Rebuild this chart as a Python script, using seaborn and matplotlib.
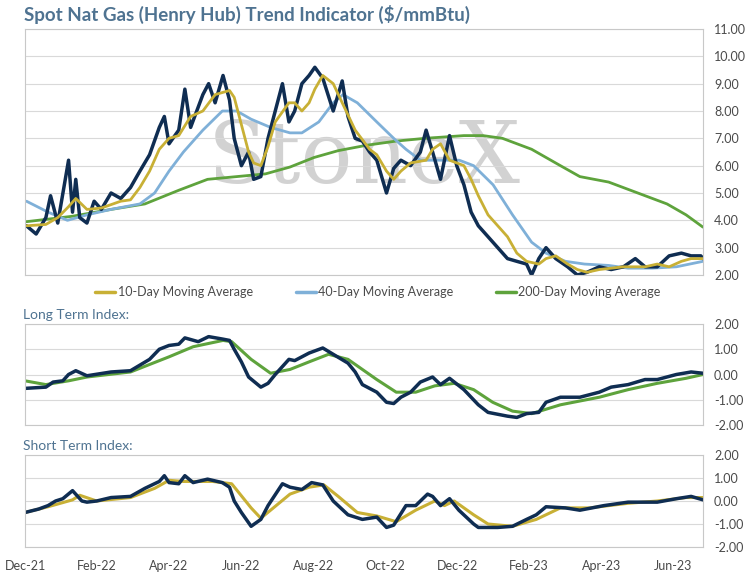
import matplotlib
matplotlib.use('Agg')
import matplotlib.pyplot as plt
import seaborn as sns

# -----------------------------
# DATA
# time axis = months since 1 Dec 2021
# -----------------------------
month_ticks = [0, 2, 4, 6, 8, 10, 12, 14, 16, 18]
month_labels = ["Dec-21", "Feb-22", "Apr-22", "Jun-22", "Aug-22", "Oct-22", "Dec-22",
                "Feb-23", "Apr-23", "Jun-23"]

spot_t = [0.04, 0.31, 0.58, 0.71, 0.91, 1.21, 1.32, 1.41, 1.52, 1.72, 1.92, 2.12, 2.39, 2.66, 2.93,
          3.19, 3.46, 3.73, 3.87, 4.0, 4.27, 4.44, 4.6, 4.94, 5.1, 5.28, 5.5, 5.68, 5.81, 6.01, 6.21,
          6.35, 6.55, 6.75, 6.95, 7.15, 7.33, 7.49, 7.69, 7.89, 8.05, 8.27, 8.56, 8.81, 8.97, 9.17,
          9.37, 9.57, 9.77, 10.04, 10.24, 10.44, 10.71, 10.98, 11.14, 11.32, 11.54, 11.79, 11.99,
          12.19, 12.39, 12.59, 12.86, 13.13, 13.4, 13.66, 13.93, 14.07, 14.27, 14.47, 14.74, 15.07,
          15.34, 15.61, 15.95, 16.28, 16.62, 16.95, 17.22, 17.56, 17.89, 18.23, 18.5, 18.77, 18.83]
spot = [3.8, 3.5, 4.1, 4.9, 3.9, 6.2, 4.3, 5.5, 4.1, 3.9, 4.7, 4.4, 5.0, 4.8, 5.2,
        5.8, 6.4, 7.4, 7.8, 6.8, 7.3, 8.8, 7.4, 8.6, 9.0, 8.3, 9.3, 8.4, 7.0, 6.0, 6.5,
        5.5, 5.6, 7.0, 8.0, 9.0, 7.6, 8.0, 9.0, 9.3, 9.6, 9.2, 8.0, 9.1, 7.8, 7.0,
        6.9, 6.5, 6.2, 5.0, 5.9, 6.2, 6.0, 6.5, 7.3, 6.5, 5.5, 7.1, 6.0,
        5.3, 4.3, 3.8, 3.4, 3.0, 2.6, 2.5, 2.4, 2.0, 2.6, 3.0, 2.6, 2.3,
        2.0, 2.1, 2.3, 2.2, 2.3, 2.6, 2.3, 2.3, 2.7, 2.8, 2.7, 2.7, 2.6]

ma10_t = [0.04, 0.58, 0.91, 1.21, 1.41, 1.72, 2.12, 2.66, 2.93, 3.19, 3.46, 3.73, 4.0, 4.27, 4.6,
          4.94, 5.28, 5.68, 5.81, 6.01, 6.21, 6.35, 6.55, 6.75, 6.95, 7.33, 7.49, 7.69, 7.89, 8.05,
          8.27, 8.56, 8.81, 9.17, 9.57, 9.77, 10.04, 10.24, 10.44, 10.71, 11.14, 11.32, 11.54,
          11.79, 12.19, 12.39, 12.59, 12.86, 13.13, 13.4, 13.66, 13.93, 14.27, 14.47, 14.74,
          15.07, 15.34, 15.61, 15.95, 16.62, 17.22, 17.56, 17.89, 18.23, 18.5, 18.83]
ma10 = [3.8, 3.85, 4.1, 4.5, 4.8, 4.4, 4.45, 4.7, 4.75, 5.2, 5.8, 6.6, 7.0, 7.1, 7.8,
        8.0, 8.6, 8.75, 8.5, 7.5, 6.5, 6.1, 6.0, 6.7, 7.6, 8.3, 8.3, 8.0, 8.3, 8.8,
        9.3, 9.0, 8.3, 7.3, 6.6, 6.4, 5.8, 5.5, 5.8, 6.1, 6.2, 6.6, 6.8,
        6.2, 6.0, 5.5, 4.9, 4.2, 3.8, 3.4, 2.8, 2.5, 2.4, 2.6, 2.7,
        2.4, 2.2, 2.1, 2.2, 2.3, 2.3, 2.4, 2.3, 2.5, 2.6, 2.6]

ma40_t = [0.04, 0.64, 1.18, 1.72, 2.39, 3.19, 3.6, 4.0, 4.4, 4.94, 5.48, 5.88, 6.28, 6.82, 7.36,
          7.69, 8.16, 8.56, 8.83, 9.23, 9.77, 10.24, 10.58, 10.98, 11.38, 11.79, 12.06, 12.46,
          13.0, 13.54, 14.07, 14.47, 15.01, 15.54, 16.21, 16.75, 17.42, 18.09, 18.83]
ma40 = [4.7, 4.3, 4.0, 4.2, 4.4, 4.6, 5.0, 5.8, 6.5, 7.3, 8.0, 8.0, 7.7, 7.4, 7.2,
        7.2, 7.6, 8.3, 8.6, 8.3, 7.6, 7.0, 6.6, 6.2, 6.2, 6.2, 6.2, 6.0,
        5.3, 4.2, 3.2, 2.8, 2.5, 2.4, 2.35, 2.25, 2.25, 2.3, 2.5]

ma200_t = [0.04, 1.32, 2.39, 3.33, 4.27, 5.07, 5.88, 6.68, 7.36, 8.03, 8.7, 9.5, 10.31, 11.11,
           12.19, 12.72, 13.26, 14.07, 14.87, 15.41, 16.21, 17.02, 17.83, 18.36, 18.83]
ma200 = [3.95, 4.15, 4.4, 4.6, 5.1, 5.5, 5.6, 5.7, 5.95, 6.3, 6.55, 6.75, 6.9, 7.0,
         7.1, 7.1, 7.0, 6.6, 6.0, 5.6, 5.4, 5.0, 4.6, 4.2, 3.75]

lt_t = [0.0, 0.58, 0.78, 1.05, 1.21, 1.41, 1.72, 2.39, 2.93, 3.46, 3.73, 4.0, 4.27, 4.44, 4.81,
        5.1, 5.5, 5.68, 5.81, 6.01, 6.21, 6.55, 6.75, 6.95, 7.33, 7.49, 7.89, 8.27, 8.56, 8.97,
        9.17, 9.37, 9.77, 10.04, 10.24, 10.44, 10.71, 10.98, 11.32, 11.54, 11.79, 12.19, 12.59,
        12.86, 13.4, 13.66, 13.93, 14.27, 14.47, 14.87, 15.41, 15.95, 16.28, 16.75, 17.22,
        17.56, 18.09, 18.5, 18.83]
lt_index = [-0.55, -0.5, -0.3, -0.25, 0.0, 0.15, -0.05, 0.1, 0.15, 0.6, 1.0, 1.15, 1.2, 1.45, 1.3,
            1.5, 1.4, 1.35, 1.0, 0.5, -0.1, -0.5, -0.35, 0.0, 0.6, 0.55, 0.85, 1.05, 0.8, 0.45,
            0.1, -0.4, -0.7, -1.1, -1.15, -0.9, -0.7, -0.3, -0.1, -0.4, -0.15, -0.6, -1.2,
            -1.5, -1.65, -1.7, -1.55, -1.5, -1.1, -0.9, -0.9, -0.7, -0.5, -0.4, -0.2,
            -0.2, 0.0, 0.1, 0.05]
lt_sig_t = [0.0, 0.58, 1.21, 1.72, 2.93, 4.0, 4.67, 5.5, 5.74, 6.28, 6.82, 7.36, 7.89, 8.43, 8.97,
            9.77, 10.31, 10.85, 11.38, 11.92, 12.46, 12.99, 13.54, 14.07, 14.87, 15.95, 16.75,
            17.56, 18.36, 18.83]
lt_signal = [-0.25, -0.4, -0.25, -0.1, 0.1, 0.7, 1.1, 1.35, 1.3, 0.6, 0.05, 0.2, 0.5, 0.8, 0.6,
             -0.2, -0.7, -0.7, -0.45, -0.35, -0.6, -1.1, -1.45, -1.55, -1.2, -0.9, -0.6,
             -0.35, -0.15, 0.0]

st_t = [0.0, 0.38, 0.64, 0.85, 1.05, 1.32, 1.58, 1.72, 1.99, 2.39, 2.93, 3.33, 3.73, 3.87, 4.0,
        4.27, 4.44, 4.67, 5.07, 5.48, 5.68, 5.81, 6.01, 6.28, 6.55, 6.75, 7.15, 7.36, 7.69, 7.96,
        8.27, 8.56, 8.97, 9.37, 9.77, 10.04, 10.24, 10.58, 10.85, 11.18, 11.32, 11.54, 11.79,
        12.05, 12.46, 12.59, 13.13, 13.54, 13.93, 14.2, 14.47, 15.01, 15.41, 16.08, 16.75,
        17.56, 18.09, 18.5, 18.83]
st_index = [-0.5, -0.35, -0.2, 0.0, 0.1, 0.45, 0.0, -0.05, 0.0, 0.15, 0.2, 0.55, 0.85, 1.1, 0.8,
            0.75, 1.1, 0.8, 0.95, 0.8, 0.6, 0.0, -0.5, -1.1, -0.8, -0.2, 0.75, 0.6, 0.5, 0.8,
            0.7, 0.0, -0.6, -0.8, -0.7, -1.15, -1.05, -0.2, -0.2, 0.3, 0.2, -0.2, 0.1,
            -0.4, -1.0, -1.15, -1.15, -1.1, -0.8, -0.6, -0.25, -0.3, -0.4, -0.2, -0.05,
            -0.05, 0.1, 0.2, 0.05]
st_sig_t = [0.0, 0.64, 1.32, 1.52, 1.99, 2.93, 3.6, 4.0, 4.4, 5.21, 5.74, 6.28, 6.55, 6.82, 7.36,
            7.89, 8.3, 8.7, 9.23, 9.77, 10.31, 10.85, 11.38, 11.65, 11.92, 12.46, 12.86, 13.54,
            14.2, 14.87, 15.68, 16.75, 17.56, 18.36, 18.83]
st_signal = [-0.5, -0.25, 0.05, 0.25, 0.0, 0.15, 0.55, 0.9, 0.85, 0.85, 0.75, -0.3, -0.75, -0.4,
             0.3, 0.6, 0.7, 0.2, -0.5, -0.65, -0.9, -0.4, 0.0, -0.2, 0.0, -0.6, -1.0, -1.1,
             -0.8, -0.3, -0.3, -0.1, 0.0, 0.15, 0.15]

NAVY = "#0f2d52"
GOLD = "#c8b035"
BLUE = "#7fb0d8"
GREEN = "#5ea33c"
TXT = "#4a4a4a"
TITLE = "#4f7391"

sns.set_style("white")
plt.rcParams['font.family'] = ['Lato', 'DejaVu Sans']

fig = plt.figure(figsize=(7.54, 5.74), dpi=100)
W, H = 754, 574
def add_ax(top, bottom):
    return fig.add_axes([25 / W, 1 - bottom / H, 678 / W, (bottom - top) / H])

ax1 = add_ax(29, 275)
ax2 = add_ax(324, 425)
ax3 = add_ax(455, 547)

def line(ax, t, v, c, lw):
    sns.lineplot(x=t, y=v, color=c, lw=lw, ax=ax)

line(ax1, ma200_t, ma200, GREEN, 2.0)
line(ax1, ma40_t, ma40, BLUE, 2.0)
line(ax1, spot_t, spot, NAVY, 2.5)
line(ax1, ma10_t, ma10, GOLD, 2.0)
ax1.text(0.5, 0.47, "StoneX", transform=ax1.transAxes, ha="center", va="center",
         fontsize=62, family="serif", color="#c4c4c4", alpha=0.75, zorder=0)

line(ax2, lt_sig_t, lt_signal, GREEN, 2.2)
line(ax2, lt_t, lt_index, NAVY, 2.5)
line(ax3, st_sig_t, st_signal, GOLD, 2.2)
line(ax3, st_t, st_index, NAVY, 2.5)

for ax, lo, hi in [(ax1, 2, 11), (ax2, -2, 2), (ax3, -2, 2)]:
    ax.set_xlim(0, 18.83)
    ax.set_ylim(lo, hi)
    ax.set_yticks(range(lo, hi + 1))
    ax.set_yticklabels([f"{t:.2f}" for t in range(lo, hi + 1)])
    ax.yaxis.tick_right()
    ax.grid(axis="y", color="#d9d9d9", lw=0.8)
    ax.set_axisbelow(True)
    ax.tick_params(axis="y", length=0, labelsize=9, colors=TXT, pad=8)
    ax.set_xlabel("")
    ax.set_ylabel("")
    for s in ax.spines.values():
        s.set_color("#c8c8c8")
        s.set_linewidth(0.8)
    ax.set_xticks(month_ticks)
    ax.set_xticklabels(month_labels)
    ax.tick_params(axis="x", length=0, labelsize=9, colors=TXT, pad=9)
for ax in (ax1, ax2):
    ax.set_xticklabels([])

fig.text(24 / W, 1 - 14 / H, "Spot Nat Gas (Henry Hub) Trend Indicator ($/mmBtu)",
         fontsize=13.5, fontweight="bold", color=TITLE, va="center")
fig.text(23 / W, 1 - 315 / H, "Long Term Index:", fontsize=10, color=TITLE, va="center")
fig.text(23 / W, 1 - 446 / H, "Short Term Index:", fontsize=10, color=TITLE, va="center")

handles = [plt.Line2D([], [], color=c, lw=2.5) for c in (GOLD, BLUE, GREEN)]
fig.legend(handles, ["10-Day Moving Average", "40-Day Moving Average", "200-Day Moving Average"],
           loc="center", bbox_to_anchor=(378 / W, 1 - 292 / H), ncol=3, frameon=False,
           fontsize=9, handlelength=1.6, handletextpad=0.2, columnspacing=3.4,
           labelcolor=TXT)

fig.savefig("out.png", dpi=100)
